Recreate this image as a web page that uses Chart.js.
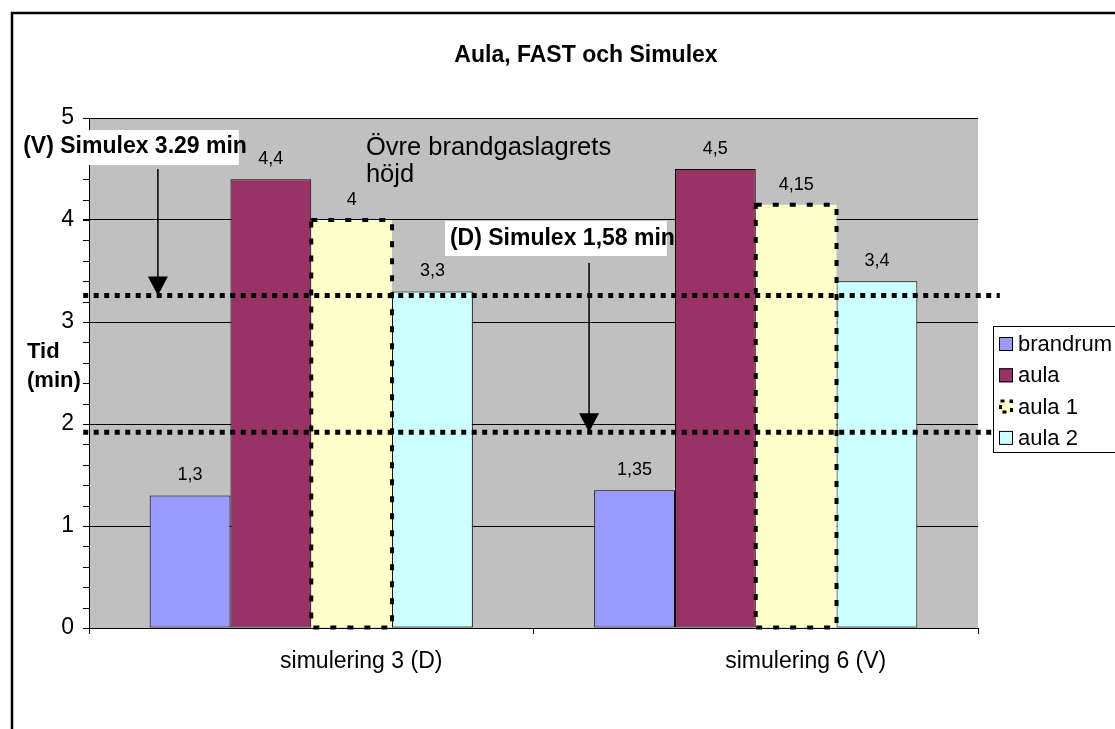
<!DOCTYPE html>
<html>
<head>
<meta charset="utf-8">
<script src="https://cdn.jsdelivr.net/npm/chart.js@4.4.1/dist/chart.umd.min.js"></script>
<style>
  html, body { margin: 0; padding: 0; background: #fff; overflow: hidden; }
  #wrap { width: 1115px; height: 729px; position: relative; }
</style>
</head>
<body>
<div id="wrap"><canvas id="c" width="1115" height="729"></canvas></div>
<script>
// ---- data ----
const categories = ['simulering 3 (D)', 'simulering 6 (V)'];
const seriesNames = ['brandrum', 'aula', 'aula 1', 'aula 2'];
const brandrum = [1.3, 1.35];
const aula = [4.4, 4.5];
const aula1 = [4, 4.15];
const aula2 = [3.3, 3.4];
const yTickValues = [0, 1, 2, 3, 4, 5];
const refLineValues = [3.26, 1.92];   // dotted horizontal lines (min)
const titleText = 'Aula, FAST och Simulex';
const yTitleLines = ['Tid', '(min)'];
const noteV = '(V) Simulex 3.29 min';
const noteD = '(D) Simulex 1,58 min';
const noteLayer = ['Övre brandgaslagrets', 'höjd'];

// ---- styles ----
const colors = ['#9999FF', '#993366', '#FFFFCC', '#CCFFFF'];
const FONT = '"Liberation Sans", Arial, sans-serif';

// annotation placement (category-index / value space)
const annot = {
  vBox: { x0: -0.67, x1: -0.163, yTop: 4.882, yBot: 4.539, textX: -0.648, textY: 4.716 },
  vArrow: { x: -0.345, yFrom: 4.5, yTo: refLineValues[0] },
  dBox: { x0: 0.301, x1: 0.800, yTop: 3.99, yBot: 3.647, textX: 0.312, textY: 3.82 },
  dArrow: { x: 0.625, yFrom: 3.578, yTo: refLineValues[1] },
  layer: { x: 0.123, y1: 4.706, y2: 4.44 },
  lines: { x0: -0.513, x1: 1.549 }
};

const fmt = v => String(v).replace('.', ',');

const extras = {
  id: 'extras',
  beforeDraw(chart) {
    const { ctx, chartArea: a } = chart;
    ctx.save();
    ctx.fillStyle = '#fff';
    ctx.fillRect(0, 0, chart.width, chart.height);
    ctx.fillStyle = '#C0C0C0';
    ctx.fillRect(a.left, a.top, a.right - a.left, a.bottom - a.top);
    ctx.restore();
  },
  afterDatasetsDraw(chart) {
    const { ctx, chartArea: a } = chart;
    const xs = chart.scales.x, ys = chart.scales.y;
    const X = v => xs.getPixelForValue(v);
    const Y = v => ys.getPixelForValue(v);
    ctx.save();

    // dashed border on "aula 1" bars
    const m2 = chart.getDatasetMeta(2);
    ctx.strokeStyle = '#000';
    ctx.lineWidth = 4;
    ctx.setLineDash([6, 11]);
    m2.data.forEach(b => {
      const l = b.x - b.width / 2, r = b.x + b.width / 2;
      ctx.strokeRect(l, b.y, r - l, b.base - b.y);
    });
    ctx.setLineDash([]);

    // value labels
    ctx.fillStyle = '#000';
    ctx.font = '18px ' + FONT;
    ctx.textAlign = 'center';
    ctx.textBaseline = 'middle';
    chart.data.datasets.forEach((ds, i) => {
      chart.getDatasetMeta(i).data.forEach((b, j) => {
        ctx.fillText(fmt(ds.data[j]), b.x, b.y - 20);
      });
    });

    // minor ticks on y axis
    ctx.strokeStyle = '#000';
    ctx.lineWidth = 1;
    for (let k = 0; k <= 25; k++) {
      const v = k * 0.2;
      const py = Math.round(Y(v)) + 0.5;
      ctx.beginPath();
      ctx.moveTo(a.left - 6, py);
      ctx.lineTo(a.left, py);
      ctx.stroke();
    }

    // dotted reference lines
    ctx.lineWidth = 5;
    ctx.setLineDash([5, 5.5]);
    ctx.strokeStyle = '#000';
    refLineValues.forEach(v => {
      const py = Y(v);
      ctx.beginPath();
      ctx.moveTo(X(annot.lines.x0), py);
      ctx.lineTo(X(annot.lines.x1), py);
      ctx.stroke();
    });
    ctx.setLineDash([]);

    // arrows
    function arrow(ar) {
      const px = X(ar.x), y0 = Y(ar.yFrom), y1 = Y(ar.yTo);
      ctx.strokeStyle = '#000';
      ctx.lineWidth = 1.5;
      ctx.beginPath();
      ctx.moveTo(px, y0);
      ctx.lineTo(px, y1 - 18);
      ctx.stroke();
      ctx.fillStyle = '#000';
      ctx.beginPath();
      ctx.moveTo(px - 10, y1 - 19);
      ctx.lineTo(px + 10, y1 - 19);
      ctx.lineTo(px, y1);
      ctx.closePath();
      ctx.fill();
    }
    arrow(annot.vArrow);
    arrow(annot.dArrow);

    // white text boxes
    function box(bx, text) {
      ctx.fillStyle = '#fff';
      ctx.fillRect(X(bx.x0), Y(bx.yTop), X(bx.x1) - X(bx.x0), Y(bx.yBot) - Y(bx.yTop));
      ctx.fillStyle = '#000';
      ctx.font = 'bold 23px ' + FONT;
      ctx.textAlign = 'left';
      ctx.textBaseline = 'middle';
      ctx.fillText(text, X(bx.textX), Y(bx.textY));
    }
    box(annot.vBox, noteV);
    box(annot.dBox, noteD);

    // layer text
    ctx.fillStyle = '#000';
    ctx.font = '25.5px ' + FONT;
    ctx.textAlign = 'left';
    ctx.textBaseline = 'middle';
    ctx.fillText(noteLayer[0], X(annot.layer.x), Y(annot.layer.y1));
    ctx.fillText(noteLayer[1], X(annot.layer.x), Y(annot.layer.y2));

    ctx.restore();
  },
  afterDraw(chart) {
    const { ctx } = chart;
    ctx.save();
    // frame
    ctx.strokeStyle = '#000';
    ctx.lineWidth = 2.5;
    ctx.strokeRect(12, 13, chart.width + 20, chart.height + 20);

    // title
    ctx.fillStyle = '#000';
    ctx.font = 'bold 23px ' + FONT;
    ctx.textAlign = 'center';
    ctx.textBaseline = 'middle';
    ctx.fillText(titleText, 586, 56);

    // y axis title (horizontal, two lines)
    ctx.font = 'bold 22px ' + FONT;
    ctx.textAlign = 'left';
    ctx.fillText(yTitleLines[0], 27, 352);
    ctx.fillText(yTitleLines[1], 27, 381);

    // legend
    const lx = 993, ly = 326, lh = 126;
    ctx.fillStyle = '#fff';
    ctx.fillRect(lx, ly, 200, lh);
    ctx.strokeStyle = '#000';
    ctx.lineWidth = 1;
    ctx.strokeRect(lx + 0.5, ly + 0.5, 200, lh);
    ctx.font = '22px ' + FONT;
    seriesNames.forEach((name, i) => {
      const cy = ly + 18 + i * 31.3;
      ctx.fillStyle = colors[i];
      ctx.fillRect(999, cy - 7, 14, 14);
      if (i === 2) {
        ctx.lineWidth = 3;
        ctx.setLineDash([4, 5]);
        ctx.strokeStyle = '#000';
        ctx.strokeRect(1000.5, cy - 5.5, 11, 11);
        ctx.setLineDash([]);
      } else {
        ctx.lineWidth = 1;
        ctx.strokeStyle = '#000';
        ctx.strokeRect(999.5, cy - 6.5, 13, 13);
      }
      ctx.fillStyle = '#000';
      ctx.textAlign = 'left';
      ctx.textBaseline = 'middle';
      ctx.fillText(name, 1018, cy + 1);
    });
    ctx.restore();
  }
};

const datasets = [brandrum, aula, aula1, aula2].map((d, i) => ({
  label: seriesNames[i],
  data: d,
  backgroundColor: colors[i],
  borderColor: '#000',
  borderWidth: i === 2 ? 0 : 1,
  borderSkipped: false,
  categoryPercentage: 0.727,
  barPercentage: 1.0
}));

new Chart(document.getElementById('c'), {
  type: 'bar',
  data: { labels: categories, datasets },
  options: {
    responsive: false,
    devicePixelRatio: 1,
    animation: false,
    layout: { padding: { top: 118, right: 137, left: 0, bottom: 0 } },
    plugins: { legend: { display: false }, title: { display: false }, tooltip: { enabled: false } },
    scales: {
      x: {
        grid: { offset: true, drawOnChartArea: false, color: '#000', tickLength: 6 },
        border: { color: '#000', width: 1 },
        ticks: { color: '#000', font: { family: FONT, size: 23 }, padding: 14, maxRotation: 0, labelOffset: 50 },
        afterFit(s) { s.height = 101; }
      },
      y: {
        min: 0, max: 5,
        afterBuildTicks(s) { s.ticks = yTickValues.map(v => ({ value: v })); },
        grid: { color: '#000', lineWidth: 1, tickLength: 6 },
        border: { color: '#000', width: 1 },
        ticks: { color: '#000', font: { family: FONT, size: 23 }, padding: 9 },
        afterFit(s) { s.width = 89; }
      }
    }
  },
  plugins: [extras]
});
</script>
</body>
</html>
